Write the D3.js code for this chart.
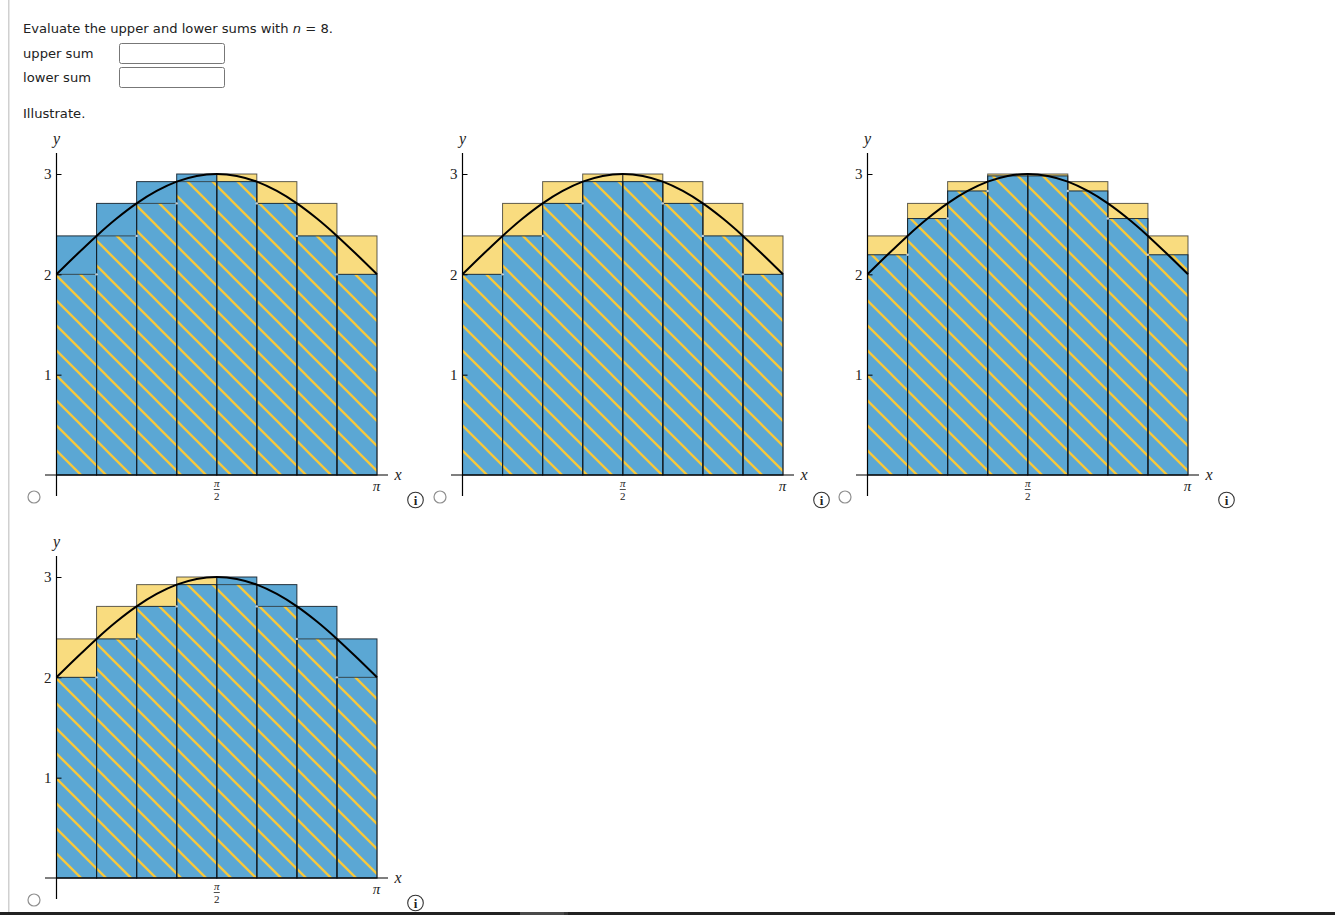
<!DOCTYPE html>
<html>
<head>
<meta charset="utf-8">
<script src="https://cdn.jsdelivr.net/npm/d3@7"></script>
<style>
  html, body { margin: 0; padding: 0; background: #fff; overflow: hidden; }
  .prose { font-family: "DejaVu Sans", sans-serif; font-size: 13.13px; fill: #222; }
  .math { font-family: "Liberation Serif", serif; fill: #222; }
</style>
</head>
<body>
<div id="chart"></div>
<script>
// interval edges, as fractions of pi
const edges = [0, 0.125, 0.25, 0.375, 0.5, 0.625, 0.75, 0.875, 1]

// curve read at every sixteenth of pi
const curveX = [0, 0.0625, 0.125, 0.1875, 0.25, 0.3125, 0.375, 0.4375, 0.5, 0.5625, 0.625, 0.6875, 0.75, 0.8125, 0.875, 0.9375, 1]
const curveY = [2, 2.195, 2.383, 2.556, 2.707, 2.831, 2.924, 2.981, 3, 2.981, 2.924, 2.831, 2.707, 2.556, 2.383, 2.195, 2]

// bar heights per answer choice
const blueA = [2.383, 2.707, 2.924, 3, 2.924, 2.707, 2.383, 2]
const yellowA = [2, 2.383, 2.707, 2.924, 3, 2.924, 2.707, 2.383]
const blueB = [2, 2.383, 2.707, 2.924, 2.924, 2.707, 2.383, 2]
const yellowB = [2.383, 2.707, 2.924, 3, 3, 2.924, 2.707, 2.383]
const blueC = [2.195, 2.556, 2.831, 2.981, 2.981, 2.831, 2.556, 2.195]
const yellowC = [2.383, 2.707, 2.924, 3, 3, 2.924, 2.707, 2.383]
const blueD = [2, 2.383, 2.707, 2.924, 3, 2.924, 2.707, 2.383]
const yellowD = [2.383, 2.707, 2.924, 3, 2.924, 2.707, 2.383, 2]

const yTicks = [1, 2, 3]
const choices = [
  { blue: blueA, yellow: yellowA },
  { blue: blueB, yellow: yellowB },
  { blue: blueC, yellow: yellowC },
  { blue: blueD, yellow: yellowD }
]

// layout
const origins = [[56.5, 475], [462.5, 475], [867.5, 475], [56.5, 878]]
const width = 1335
const height = 915

const x = d3.scaleLinear().domain([0, 1]).range([0, 320.5])
const y = d3.scaleLinear().domain([0, 3]).range([0, -301])

const svg = d3
  .select('#chart')
  .append('svg')
  .attr('width', width)
  .attr('height', height)
  .style('display', 'block')

const hatch = svg
  .append('defs')
  .append('pattern')
  .attr('id', 'hatch')
  .attr('patternUnits', 'userSpaceOnUse')
  .attr('width', 25)
  .attr('height', 25)
  .attr('x', -0.5)
  .attr('y', 0)

hatch.append('rect').attr('width', 25).attr('height', 25).attr('fill', '#5ba7d4')
hatch
  .append('path')
  .attr('d', 'M-3,-3L28,28M-28,-3L3,28M22,-3L53,28')
  .attr('stroke', '#f7c83c')
  .attr('stroke-width', 2.3)

// page furniture
svg.append('rect').attr('x', 8).attr('y', 0).attr('width', 1.5).attr('height', 912).attr('fill', '#d0d0d0')
svg.append('rect').attr('x', 0).attr('y', 912).attr('width', width).attr('height', 3).attr('fill', '#222')
svg.append('rect').attr('x', 520).attr('y', 912).attr('width', 44).attr('height', 3).attr('fill', '#4a4a4a')
svg.append('rect').attr('x', 564).attr('y', 912).attr('width', 4).attr('height', 3).attr('fill', '#363636')

const title = svg.append('text').attr('class', 'prose').attr('x', 23).attr('y', 33)
title.append('tspan').text('Evaluate the upper and lower sums with ')
title.append('tspan').attr('font-style', 'italic').text('n')
title.append('tspan').text(' = 8.')

svg.append('text').attr('class', 'prose').attr('x', 23).attr('y', 58).text('upper sum')
svg.append('text').attr('class', 'prose').attr('x', 23).attr('y', 82).text('lower sum')
svg.append('text').attr('class', 'prose').attr('x', 23).attr('y', 118).text('Illustrate.')

svg
  .selectAll('.answer')
  .data([43.5, 67.5])
  .enter()
  .append('rect')
  .attr('class', 'answer')
  .attr('x', 119.5)
  .attr('y', d => d)
  .attr('width', 105)
  .attr('height', 20)
  .attr('rx', 2)
  .attr('fill', '#fff')
  .attr('stroke', '#777')

const curve = d3
  .line()
  .x((d, i) => x(d))
  .y((d, i) => y(curveY[i]))
  .curve(d3.curveCatmullRom)

const barX = (d, i) => x(edges[i])
const barW = (d, i) => x(edges[i + 1]) - x(edges[i])

function addBars(g, name, values) {
  return g
    .selectAll('.' + name)
    .data(values)
    .enter()
    .append('rect')
    .attr('class', name)
    .attr('x', barX)
    .attr('width', barW)
    .attr('y', d => y(d))
    .attr('height', d => -y(d))
}

choices.forEach(function(choice, k) {
  const [ox, oy] = origins[k]
  const g = svg.append('g').attr('transform', `translate(${ox},${oy})`)
  const overlap = choice.blue.map((b, i) => Math.min(b, choice.yellow[i]))

  addBars(g, 'yellow', choice.yellow).attr('fill', '#f9dc7f')
  addBars(g, 'blue', choice.blue).attr('fill', '#5ba7d4')
  addBars(g, 'overlap', overlap).attr('fill', 'url(#hatch)')

  addBars(g, 'yellow-edge', choice.yellow)
    .attr('fill', 'none')
    .attr('stroke', '#2a2a26')
    .attr('stroke-opacity', 0.75)
  addBars(g, 'blue-edge', choice.blue)
    .attr('fill', 'none')
    .attr('stroke', '#14202a')
    .attr('stroke-opacity', 0.9)

  // small pale notches where the overlap steps up or down
  const steps = overlap.slice(1).map((d, i) => ({ edge: edges[i + 1], low: Math.min(d, overlap[i]), same: d === overlap[i] }))
  g.selectAll('.notch')
    .data(steps.filter(d => !d.same))
    .enter()
    .append('circle')
    .attr('class', 'notch')
    .attr('cx', d => x(d.edge))
    .attr('cy', d => y(d.low))
    .attr('r', 1.2)
    .attr('fill', '#fff')
    .attr('fill-opacity', 0.75)

  g.append('path')
    .datum(curveX)
    .attr('d', curve)
    .attr('fill', 'none')
    .attr('stroke', '#000')
    .attr('stroke-width', 2)

  // axes
  const yAxis = d3
    .axisLeft(y)
    .tickValues(yTicks)
    .tickSizeInner(-5)
    .tickSizeOuter(0)
    .tickPadding(5)
    .tickFormat(d3.format('d'))

  const yg = g.append('g').call(yAxis)
  yg.select('.domain').remove()
  yg.selectAll('line').attr('stroke', '#000')
  yg.selectAll('text')
    .attr('class', 'math')
    .attr('font-size', 15)
    .attr('font-family', null)

  g.append('line').attr('x1', -11.5).attr('x2', 331.5).attr('y1', 0).attr('y2', 0).attr('stroke', '#000').attr('stroke-width', 1.2)
  g.append('line').attr('x1', 0).attr('x2', 0).attr('y1', -322).attr('y2', 21).attr('stroke', '#000').attr('stroke-width', 1.2)

  // pi / 2
  g.append('text')
    .attr('class', 'math')
    .attr('x', x(0.5))
    .attr('y', 12)
    .attr('text-anchor', 'middle')
    .attr('font-size', 11)
    .attr('font-style', 'italic')
    .text('π')
  g.append('line').attr('x1', x(0.5) - 3).attr('x2', x(0.5) + 3).attr('y1', 14.5).attr('y2', 14.5).attr('stroke', '#222').attr('stroke-width', 0.8)
  g.append('text')
    .attr('class', 'math')
    .attr('x', x(0.5))
    .attr('y', 25)
    .attr('text-anchor', 'middle')
    .attr('font-size', 11)
    .text('2')

  g.append('text')
    .attr('class', 'math')
    .attr('x', x(1) - 0.5)
    .attr('y', 16)
    .attr('text-anchor', 'middle')
    .attr('font-size', 15)
    .attr('font-style', 'italic')
    .text('π')

  g.append('text')
    .attr('class', 'math')
    .attr('x', 338)
    .attr('y', 5)
    .attr('font-size', 16)
    .attr('font-style', 'italic')
    .text('x')

  g.append('text')
    .attr('class', 'math')
    .attr('x', 0)
    .attr('y', -331)
    .attr('text-anchor', 'middle')
    .attr('font-size', 16)
    .attr('font-style', 'italic')
    .text('y')

  // radio
  g.append('circle')
    .attr('cx', -22.5)
    .attr('cy', 22)
    .attr('r', 6)
    .attr('fill', '#fff')
    .attr('stroke', '#8f8f8f')
    .attr('stroke-width', 1.2)

  // info icon
  g.append('circle')
    .attr('cx', 359)
    .attr('cy', 25)
    .attr('r', 7.8)
    .attr('fill', '#fff')
    .attr('stroke', '#333')
    .attr('stroke-width', 1.1)
  g.append('text')
    .attr('class', 'math')
    .attr('x', 359)
    .attr('y', 29.5)
    .attr('text-anchor', 'middle')
    .attr('font-size', 13)
    .attr('font-weight', 'bold')
    .text('i')
})
</script>
</body>
</html>
